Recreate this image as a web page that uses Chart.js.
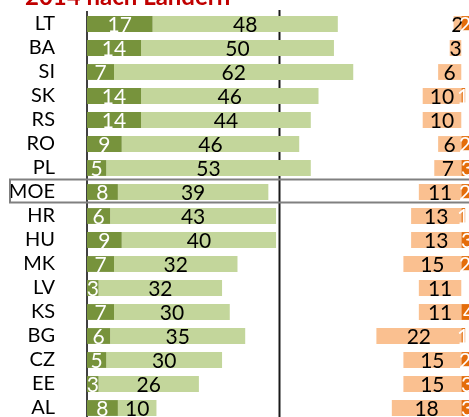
<!DOCTYPE html>
<html>
<head>
<meta charset="utf-8">
<title>2014 nach Ländern</title>
<script src="https://cdn.jsdelivr.net/npm/chart.js@4/dist/chart.umd.min.js"></script>
<style>
  html, body { margin: 0; padding: 0; background: #fff; overflow: hidden; }
  #wrap { position: relative; width: 469px; height: 417px; overflow: hidden; }
  canvas { position: absolute; left: 0; top: 0; }
</style>
</head>
<body>
<div id="wrap"><canvas id="c" width="469" height="424"></canvas></div>
<script>
// Countries, top to bottom
const countries = ['LT', 'BA', 'SI', 'SK', 'RS', 'RO', 'PL', 'MOE', 'HR', 'HU', 'MK', 'LV', 'KS', 'BG', 'CZ', 'EE', 'AL'];
// Left block (green): strong and moderate share, in %
const darkGreen  = [17, 14, 7, 14, 14, 9, 5, 8, 6, 9, 7, 3, 7, 6, 5, 3, 8];
const lightGreen = [48, 50, 62, 46, 44, 46, 53, 39, 43, 40, 32, 32, 30, 35, 30, 26, 10];
// Right block (orange): moderate and strong share, in %
const lightOrange = [2, 3, 6, 10, 10, 6, 7, 11, 13, 13, 15, 11, 11, 22, 15, 15, 18];
const darkOrange  = [2, 0, 0, 1, 0, 2, 3, 2, 1, 3, 2, 0, 4, 1, 2, 3, 3];

const TITLE = '2014 nach Ländern';
const HIGHLIGHT = 'MOE';
const MIDLINE = 50;      // reference line on the value axis
const RIGHT_BASE = 97;   // where the orange block is anchored
const X_MAX = 99;

const FONT = 'Lato, "Open Sans", "Liberation Sans", sans-serif';

// floating segments built from the value arrays
const seg = (starts, vals) => vals.map((v, i) => [starts[i], starts[i] + v]);
const zeros = countries.map(() => 0);

const datasets = [
  { label: 'stark (grün)', data: seg(zeros, darkGreen), values: darkGreen,
    backgroundColor: '#77933c', labelColor: '#ffffff' },
  { label: 'eher (grün)', data: seg(darkGreen, lightGreen), values: lightGreen,
    backgroundColor: '#c3d69b', labelColor: '#000000' },
  { label: 'eher (orange)', data: lightOrange.map(v => [RIGHT_BASE - v, RIGHT_BASE]), values: lightOrange,
    backgroundColor: '#fac090', labelColor: '#000000' },
  { label: 'stark (orange)', data: darkOrange.map(v => [RIGHT_BASE, RIGHT_BASE + v]), values: darkOrange,
    backgroundColor: '#e46c0a', labelColor: '#ffffff' }
];

// reference line behind the bars, highlight frame, title and value labels
const decor = {
  id: 'decor',
  beforeDatasetsDraw(chart) {
    const { ctx, chartArea, scales: { x } } = chart;
    const px = Math.round(x.getPixelForValue(MIDLINE)) - 0.5;
    ctx.save();
    ctx.strokeStyle = '#1a1a1a';
    ctx.lineWidth = 2;
    ctx.beginPath();
    ctx.moveTo(px, chartArea.top - 2);
    ctx.lineTo(px, chartArea.bottom);
    ctx.stroke();
    ctx.restore();
  },
  afterDatasetsDraw(chart) {
    const { ctx } = chart;
    ctx.save();
    ctx.font = '21px ' + FONT;
    ctx.textAlign = 'center';
    ctx.textBaseline = 'middle';
    chart.data.datasets.forEach((ds, di) => {
      const meta = chart.getDatasetMeta(di);
      meta.data.forEach((bar, i) => {
        const v = ds.values[i];
        if (!v) return;
        ctx.fillStyle = ds.labelColor;
        ctx.fillText(String(v), (bar.x + bar.base) / 2, bar.y + 1);
      });
    });
    ctx.restore();
  },
  afterDraw(chart) {
    const { ctx, scales: { y } } = chart;
    const idx = countries.indexOf(HIGHLIGHT);
    const half = (y.getPixelForValue(1) - y.getPixelForValue(0)) / 2;
    const cy = y.getPixelForValue(idx);
    const top = Math.round(cy - half) - 0.5, bottom = Math.round(cy + half) - 1.5;
    ctx.save();
    ctx.strokeStyle = '#808080';
    ctx.lineWidth = 2;
    ctx.beginPath();
    ctx.moveTo(chart.width, top);
    ctx.lineTo(10, top);
    ctx.lineTo(10, bottom);
    ctx.lineTo(chart.width, bottom);
    ctx.stroke();

    ctx.fillStyle = '#c00000';
    ctx.font = 'bold 24px ' + FONT;
    ctx.textAlign = 'left';
    ctx.textBaseline = 'alphabetic';
    ctx.fillText(TITLE, 25, 5);
    ctx.restore();
  }
};

new Chart(document.getElementById('c'), {
  type: 'bar',
  data: { labels: countries, datasets },
  options: {
    indexAxis: 'y',
    responsive: false,
    maintainAspectRatio: false,
    animation: false,
    devicePixelRatio: 1,
    layout: { autoPadding: false, padding: { top: 12, bottom: 4, left: 0, right: 0 } },
    datasets: { bar: { grouped: false, barPercentage: 0.66, categoryPercentage: 1, borderWidth: 0 } },
    plugins: { legend: { display: false }, tooltip: { enabled: false }, title: { display: false } },
    scales: {
      x: { display: false, min: 0, max: X_MAX },
      y: {
        grid: { display: false },
        border: { display: true, color: '#404040', width: 2 },
        ticks: { color: '#000', padding: 24, autoSkip: false, font: { family: FONT, size: 20 } },
        afterFit(scale) { scale.width = 87; scale.paddingTop = 0; scale.paddingBottom = 0; }
      }
    }
  },
  plugins: [decor]
});
</script>
</body>
</html>
